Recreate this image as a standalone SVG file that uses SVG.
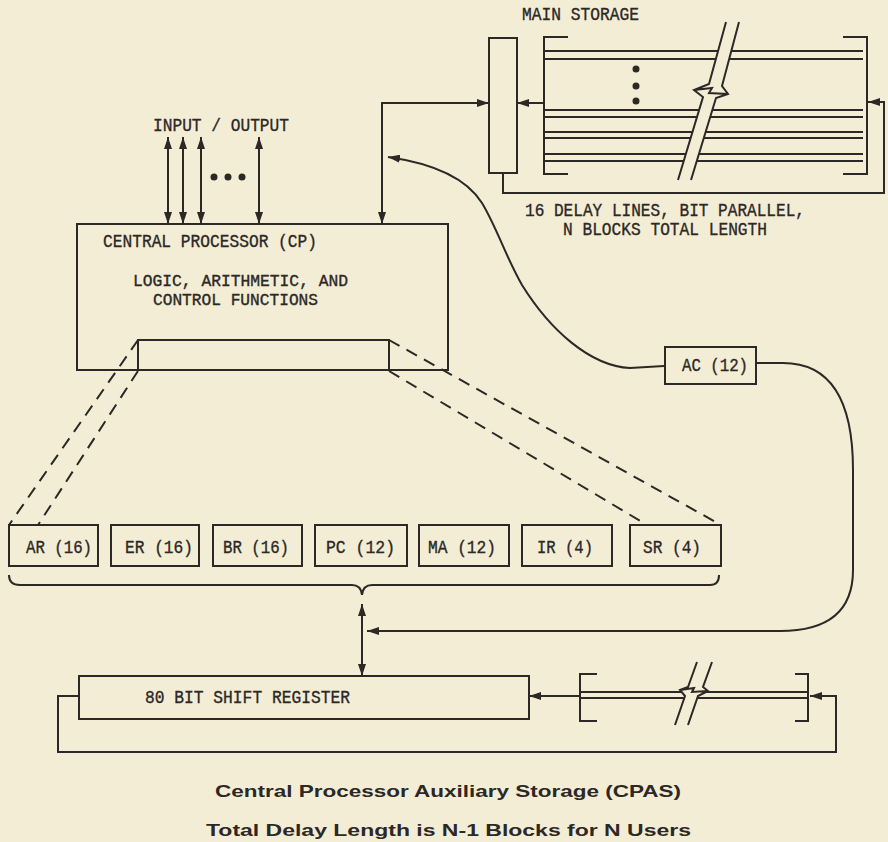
<svg xmlns="http://www.w3.org/2000/svg" width="888" height="842" viewBox="0 0 888 842">
<style>
.ln{fill:none;stroke:#2b2825;stroke-width:2;stroke-linejoin:miter}
.bx{fill:none;stroke:#2b2825;stroke-width:2}
.ds{fill:none;stroke:#2b2825;stroke-width:2;stroke-dasharray:12 8}
.tw{font-family:"Liberation Mono","DejaVu Sans Mono",monospace;font-size:18px;fill:#2b2825;stroke:#2b2825;stroke-width:0.35}
.sm{font-size:16px}
.cap{font-family:"Liberation Sans","DejaVu Sans",sans-serif;font-weight:bold;font-size:17px;fill:#2b2825}
.dot{fill:#2b2825}
</style>
<defs>
<marker id="ah" viewBox="0 0 12 8" refX="12" refY="4" markerWidth="12" markerHeight="8" markerUnits="userSpaceOnUse" orient="auto-start-reverse">
<path d="M0,0 L12,4 L0,8 z" fill="#2b2825"/>
</marker>
</defs>
<rect x="0" y="0" width="888" height="842" fill="#f4edd6"/>

<g id="main-storage">
<text class="tw" x="522" y="20" textLength="117" lengthAdjust="spacingAndGlyphs">MAIN STORAGE</text>
<rect class="bx" x="489" y="38" width="28" height="135"/>
<path class="ln" d="M568,37 L544,37 L544,174 L568,174 M843,37 L867,37 L867,174 L843,174"/>
<path class="ln" d="M544,51 H863 M544,59 H863 M544,110 H863 M544,117 H863 M544,132 H863 M544,138 H863 M544,154 H863 M544,161 H863"/>
<circle class="dot" cx="636" cy="69" r="3.5"/>
<circle class="dot" cx="636" cy="86" r="3.5"/>
<circle class="dot" cx="636" cy="101" r="3.5"/>
<path d="M726,22 L739,22 L722,86 L728,94 L716,98 L691,180 L678,180 L703,97 L694,90 L709,84 z" fill="#f4edd6"/>
<path class="ln" d="M726,22 L709,84 L694,90 L703,97 L678,180 M739,22 L722,86 L728,94 L716,98 L691,180 M694,90 L712,88 L709,93 L728,94"/>
<text class="tw" x="525" y="216" textLength="280" lengthAdjust="spacingAndGlyphs">16 DELAY LINES, BIT PARALLEL,</text>
<text class="tw" x="563" y="235" textLength="204" lengthAdjust="spacingAndGlyphs">N BLOCKS TOTAL LENGTH</text>
</g>

<g id="io">
<text class="tw" x="153" y="131" textLength="136" lengthAdjust="spacingAndGlyphs">INPUT / OUTPUT</text>
<circle class="dot" cx="214" cy="177" r="3.5"/>
<circle class="dot" cx="228" cy="177" r="3.5"/>
<circle class="dot" cx="242" cy="177" r="3.5"/>
</g>

<g id="cp">
<rect class="bx" x="77" y="224" width="371" height="146"/>
<rect class="bx" x="138" y="340" width="251" height="30"/>
<text class="tw" x="103" y="247" textLength="214" lengthAdjust="spacingAndGlyphs">CENTRAL PROCESSOR (CP)</text>
<text class="tw sm" x="133" y="286" textLength="215" lengthAdjust="spacingAndGlyphs">LOGIC, ARITHMETIC, AND</text>
<text class="tw sm" x="153" y="305" textLength="165" lengthAdjust="spacingAndGlyphs">CONTROL FUNCTIONS</text>
</g>

<g id="ac">
<rect class="bx" x="665" y="347" width="91" height="37"/>
<text class="tw" x="682" y="371" textLength="66" lengthAdjust="spacingAndGlyphs">AC (12)</text>
</g>

<g id="registers">
<rect class="bx" x="9" y="525" width="89" height="41"/>
<text class="tw" x="26" y="553" textLength="66" lengthAdjust="spacingAndGlyphs">AR (16)</text>
<rect class="bx" x="111" y="525" width="88" height="41"/>
<text class="tw" x="125" y="553" textLength="68" lengthAdjust="spacingAndGlyphs">ER (16)</text>
<rect class="bx" x="213" y="525" width="89" height="41"/>
<text class="tw" x="223" y="553" textLength="66" lengthAdjust="spacingAndGlyphs">BR (16)</text>
<rect class="bx" x="315" y="525" width="92" height="41"/>
<text class="tw" x="326" y="553" textLength="69" lengthAdjust="spacingAndGlyphs">PC (12)</text>
<rect class="bx" x="419" y="525" width="90" height="41"/>
<text class="tw" x="428" y="553" textLength="68" lengthAdjust="spacingAndGlyphs">MA (12)</text>
<rect class="bx" x="522" y="525" width="90" height="41"/>
<text class="tw" x="537" y="553" textLength="56" lengthAdjust="spacingAndGlyphs">IR (4)</text>
<rect class="bx" x="630" y="525" width="91" height="41"/>
<text class="tw" x="643" y="553" textLength="58" lengthAdjust="spacingAndGlyphs">SR (4)</text>
<path class="ln" d="M9,575 Q9,585 20,585 L352,585 Q361,585 362,595 Q363,585 372,585 L710,585 Q719,585 719,575"/>
</g>

<g id="shift-register">
<rect class="bx" x="79" y="676" width="450" height="43"/>
<text class="tw" x="145" y="703" textLength="205" lengthAdjust="spacingAndGlyphs">80 BIT SHIFT REGISTER</text>
</g>

<g id="cpas-delay">
<path class="ln" d="M597,674 L580,674 L580,721 L597,721 M795,674 L808,674 L808,721 L795,721"/>
<path class="ln" d="M580,692 H808 M580,698 H808"/>
<path d="M697,662 L712,662 L703,687 L708,691 L698,696 L688,725 L675,725 L685,696 L680,690 L688,687 z" fill="#f4edd6"/>
<path class="ln" d="M697,662 L688,687 L680,690 L685,696 L675,725 M712,662 L703,687 L708,691 L698,696 L688,725 M680,690 L694,688 L692,692 L708,691"/>
</g>

<g id="connectors">
<path class="ln" d="M168,137 V224" marker-start="url(#ah)" marker-end="url(#ah)"/>
<path class="ln" d="M183,137 V224" marker-start="url(#ah)" marker-end="url(#ah)"/>
<path class="ln" d="M201,137 V224" marker-start="url(#ah)" marker-end="url(#ah)"/>
<path class="ln" d="M259,137 V224" marker-start="url(#ah)" marker-end="url(#ah)"/>
<path class="ln" d="M382,224 V103 H489" marker-start="url(#ah)" marker-end="url(#ah)"/>
<path class="ln" d="M543,103 H517" marker-end="url(#ah)"/>
<path class="ln" d="M503,173 V193 H884 V102 H868" marker-end="url(#ah)"/>
<path class="ln" d="M664,366 L630,368 C590,366 550,330 522,285 C505,255 497,228 482,203 C465,176 430,163 388,157" marker-end="url(#ah)"/>
<path class="ln" d="M756,363 L783,363 C830,363 853,400 853,470 L853,570 C853,610 830,631 780,631 L367,631" marker-end="url(#ah)"/>
<path class="ln" d="M362,604 V676" marker-start="url(#ah)" marker-end="url(#ah)"/>
<path class="ln" d="M580,696 H529" marker-end="url(#ah)"/>
<path class="ln" d="M79,696 H58 V752 H836 V696 H810" marker-end="url(#ah)"/>
<path class="ds" d="M138,340 L9,525"/>
<path class="ds" d="M138,371 L38,525"/>
<path class="ds" d="M389,340 L721,525"/>
<path class="ds" d="M389,371 L647,525"/>
</g>

<g id="caption">
<text class="cap" x="215" y="797" textLength="466" lengthAdjust="spacingAndGlyphs">Central Processor Auxiliary Storage (CPAS)</text>
<text class="cap" x="206" y="836" textLength="485" lengthAdjust="spacingAndGlyphs">Total Delay Length is N-1 Blocks for N Users</text>
</g>
</svg>
